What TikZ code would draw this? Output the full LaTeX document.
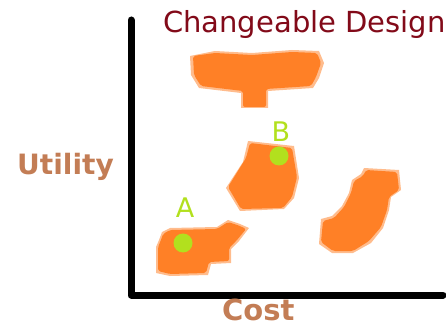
\documentclass[tikz,border=0pt]{standalone}
\usepackage{fontspec}
\setmainfont{DejaVu Sans}
\usetikzlibrary{calc}

\definecolor{titlered}{RGB}{130,10,25}
\definecolor{axislabel}{RGB}{195,125,85}
\definecolor{bloborange}{RGB}{255,128,38}
\definecolor{dotgreen}{RGB}{178,224,30}

\tikzset{
	blob/.style={fill=bloborange, draw=none, rounded corners=2pt},
	blobedge/.style={fill=bloborange!75!white, fill opacity=0.7, draw=none},
	dot/.style={circle, fill=dotgreen, inner sep=0pt, minimum size=19pt},
	pointlabel/.style={text=dotgreen, inner sep=0pt, anchor=base, font=\fontsize{27}{27}\selectfont},
	axislabelstyle/.style={text=axislabel, inner sep=0pt, anchor=base west, font=\bfseries\fontsize{28}{28}\selectfont},
	axis/.style={line width=7pt, line cap=round, line join=round}
}

\begin{document}
\begin{tikzpicture}[x=1pt,y=-1pt]
	\useasboundingbox (0,0) rectangle (446,328);
	
	% Axes
	\coordinate (ytop) at (131,20);
	\coordinate (origin) at (131,295);
	\coordinate (xend) at (443,295);
	\draw[axis] (ytop) -- (origin) -- (xend);
	
	% Labels
	\node[text=titlered, inner sep=0pt, anchor=base west, font=\fontsize{29}{29}\selectfont] (title) at (163,33) {Changeable Design};
	\node[axislabelstyle] (utility) at (17,175) {Utility};
	\node[axislabelstyle, font=\bfseries\fontsize{29}{29}\selectfont] (cost) at (222,320) {Cost};
	
	% Top blob
	\fill[blobedge] (190,56) -- (215,51) -- (252,53) -- (292,50) -- (319,51) -- (324,63) -- (319,78) -- (313,88) -- (268,91) -- (268,108) -- (241,108) -- (241,93) -- (199,88) -- (191,75) -- cycle;
	\fill[blob] (193,56) -- (215,53) -- (252,55) -- (292,52) -- (317,53) -- (321,63) -- (316,77) -- (311,86) -- (266,89) -- (266,107) -- (243,107) -- (243,91) -- (201,86) -- (194,75) -- cycle;
	
	% Blob B
	\fill[blobedge] (248,141) -- (294,146) -- (299,178) -- (294,198) -- (284,209) -- (240,211) -- (226,188) -- (243,162) -- cycle;
	\fill[blob] (250,143) -- (292,148) -- (297,177) -- (292,197) -- (283,208) -- (241,209) -- (228,187) -- (246,158) -- cycle;
	
	% Blob A
	\fill[blobedge] (162,232) -- (170,228) -- (217,227) -- (228,220) -- (240,224) -- (249,228) -- (239,241) -- (231,249) -- (231,263) -- (211,264) -- (208,275) -- (170,276) -- (156,273) -- (156,247) -- (159,240) -- cycle;
	\fill[blob] (163,234) -- (170,230) -- (217,229) -- (228,222) -- (240,226) -- (246,229) -- (237,240) -- (229,248) -- (229,261) -- (209,262) -- (206,273) -- (170,274) -- (158,271) -- (158,247) -- (161,240) -- cycle;
	
	% Blob C
	\fill[blobedge] (364,168) -- (399,170) -- (401,190) -- (391,197) -- (389,210) -- (383,228) -- (371,243) -- (353,253) -- (332,253) -- (319,244) -- (321,219) -- (332,216) -- (342,206) -- (349,193) -- (352,180) -- (361,174) -- cycle;
	\fill[blob] (366,170) -- (397,172) -- (399,190) -- (389,197) -- (387,210) -- (381,227) -- (369,241) -- (353,251) -- (333,251) -- (321,242) -- (323,221) -- (334,218) -- (344,207) -- (351,193) -- (354,181) -- (363,176) -- cycle;
	
	% Points
	\node[dot] (ptA) at (183,243) {};
	\node[dot] (ptB) at (279,156) {};
	\node[pointlabel] (labA) at (185,218) {A};
	\node[pointlabel] (labB) at (281,142) {B};
\end{tikzpicture}
\end{document}
